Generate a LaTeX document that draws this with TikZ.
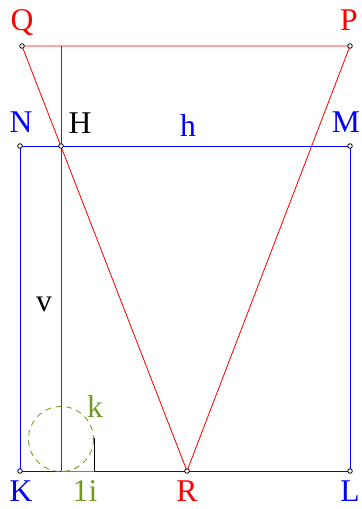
\documentclass[tikz,border=0pt]{standalone}
\usepackage{fontspec}
\setmainfont{Liberation Serif}
\usetikzlibrary{calc}
\definecolor{kgreen}{RGB}{110,155,30}
\newcommand{\GeoPoints}[1]{
    \foreach \p in {#1}{
        \draw[black,fill=white,line width=0.7pt] (\p) circle (2.3);
    }
}
\tikzset{
    lbl/.style={font=\fontsize{27}{30}\selectfont,inner sep=0pt},
}

\begin{document}
\begin{tikzpicture}[x=0.03cm,y=-0.03cm,line width=0.7pt]
    \useasboundingbox (0,0) rectangle (361,509);
    \coordinate (Q) at (22, 46);
    \coordinate (P) at (350, 46);
    \coordinate (N) at (20, 146);
    \coordinate (M) at (350, 146);
    \coordinate (K) at (20, 471);
    \coordinate (L) at (350, 471);
    \coordinate (R) at (187, 471);
    \coordinate (H) at (61, 146);
    \coordinate (T) at (61, 46);
    \coordinate (F) at (61, 471);
    \coordinate (I) at (94, 471);
    \coordinate (J) at (94, 438);
    \coordinate (C) at (61, 439);

    % square
    \draw[blue] (N) -- (M) -- (L) -- (K) -- cycle;
    % triangle
    \draw[red] (Q) -- (P) -- (R) -- cycle;
    % height line
    \draw[black!75] (T) -- (F);
    \draw[black] (I) -- (J);
    \draw[kgreen] (F) -- (I);
    \draw[kgreen,dash pattern=on 5pt off 4pt] (C) circle (32.5);

    \GeoPoints{Q,P,N,M,K,L,R,H}

    \node[lbl,red,anchor=base] (lQ) at (22, 31) {Q};
    \node[lbl,red,anchor=base] (lP) at (349, 31) {P};
    \node[lbl,blue,anchor=base] (lN) at (21, 132) {N};
    \node[lbl,blue,anchor=base] (lM) at (346, 132) {M};
    \node[lbl,anchor=base] (lH) at (80, 134) {H};
    \node[lbl,blue,anchor=base] (lh) at (188, 137) {h};
    \node[lbl,anchor=base] (lv) at (44, 311) {v};
    \node[lbl,kgreen,anchor=base] (lk) at (95, 417) {k};
    \node[lbl,blue,anchor=base] (lK) at (21, 501) {K};
    \node[lbl,kgreen,anchor=base] (li) at (85, 501) {1i};
    \node[lbl,red,anchor=base] (lR) at (187, 501) {R};
    \node[lbl,blue,anchor=base] (lL) at (350, 501) {L};
\end{tikzpicture}
\end{document}
